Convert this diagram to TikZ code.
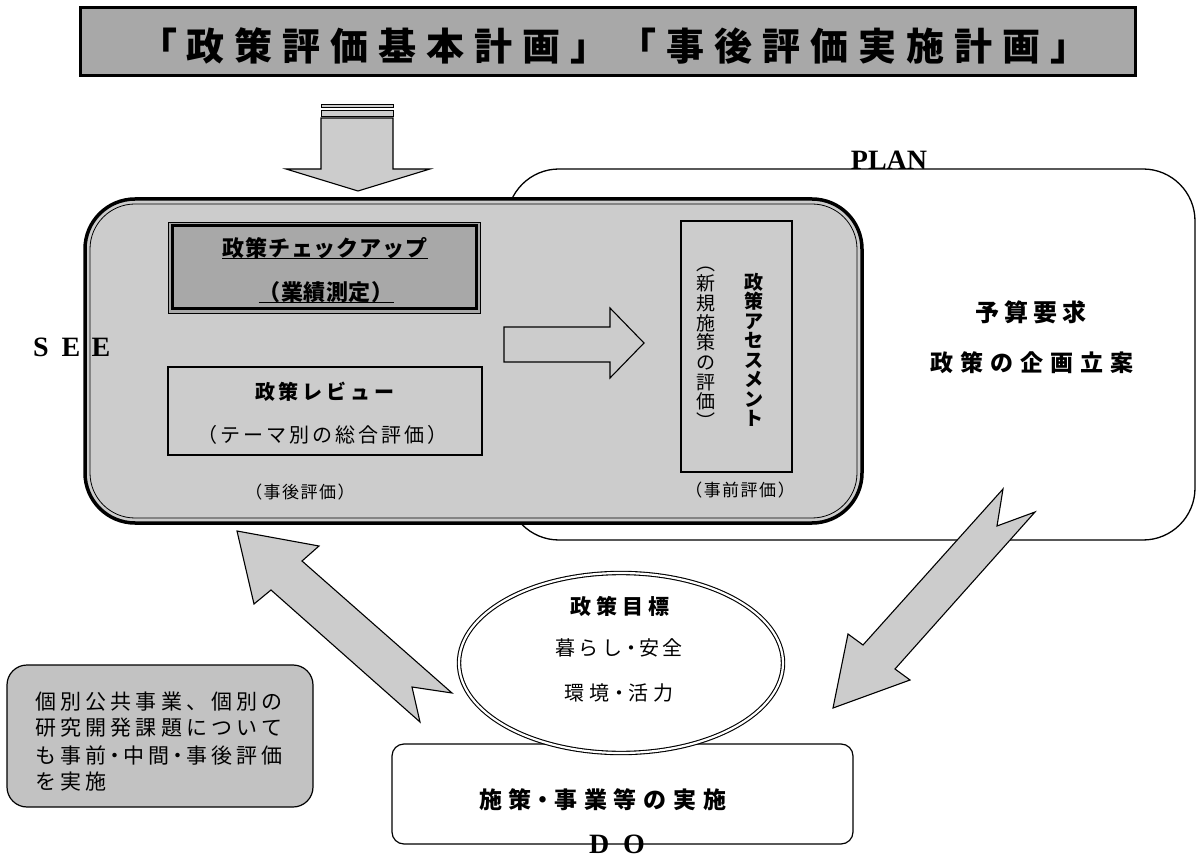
\documentclass[tikz,border=0pt]{standalone}
\usepackage{fontspec}
\usetikzlibrary{shapes.geometric}
\setmainfont{Noto Sans CJK JP}
\newfontfamily\tnr{Liberation Serif}
\definecolor{seegray}{gray}{0.80}
\definecolor{titlegray}{gray}{0.66}
\definecolor{chkgray}{gray}{0.66}
\definecolor{arrowgray}{gray}{0.80}
\definecolor{notegray}{gray}{0.76}
\newlength\spw
\def\spacedi#1{\ifx#1\relax\else\makebox[\spw]{#1}\expandafter\spacedi\fi}
\newcommand\spc[2]{\setlength\spw{#1}\spacedi#2\relax}
\tikzset{
  fs/.style={font=\fontsize{#1}{#1}\selectfont},
  fsb/.style={font=\bfseries\fontsize{#1}{#1}\selectfont},
  lbl/.style={inner sep=0pt, outer sep=0pt},
  blockarrow/.style={draw=black, line width=1.1pt, fill=arrowgray, line join=miter},
  box/.style={draw=black, inner sep=0pt, outer sep=0pt},
  ul/.style={line width=1pt},
  latin/.style={font=\tnr\bfseries\fontsize{#1}{#1}\selectfont, inner sep=0pt},
}
\begin{document}
\begin{tikzpicture}[x=1pt,y=-1pt]
\useasboundingbox (0,0) rectangle (1197,858);
% PLAN area
\node[box, line width=1.3pt, fill=white, rounded corners=52pt, minimum width=688pt, minimum height=371pt] (plan) at (851,354.5) {};
\node[latin=28] (plantxt) at (889,160) {PLAN};
% title
\node[box, line width=3pt, fill=titlegray, minimum width=1055pt, minimum height=68pt] (title) at (607.5,42) {};
\node[lbl, fsb=38] (titletxt) at (614,46) {\spc{48pt}{「政策評価基本計画」「事後評価実施計画」}};
% top arrow
\draw[blockarrow, line width=0.9pt] (321,104) rectangle (393,107);
\draw[blockarrow, line width=0.9pt] (321,110) rectangle (393,116);
\draw[blockarrow] (321,118) -- (393,118) -- (393,169) -- (430,169) -- (358,191) -- (286,169) -- (321,169) -- cycle;
% SEE box
\node[box, line width=3.5pt, fill=seegray, rounded corners=50pt, minimum width=777pt, minimum height=324pt] (see) at (473.5,361) {};
\draw[line width=0.8pt, rounded corners=45pt] ([shift={(5,5)}]see.north west) rectangle ([shift={(-5,-5)}]see.south east);
% check-up box
\node[box, line width=0.8pt, fill=chkgray, minimum width=312pt, minimum height=91pt] (chk) at (324,267.5) {};
\draw[line width=3pt] ([shift={(4,4)}]chk.north west) rectangle ([shift={(-4,-4)}]chk.south east);
\node[lbl, fsb=22] (chk1) at (325,248) {\spc{22.8pt}{政策チェックアップ}};
\draw[ul] (chk1.south west) -- (chk1.south east);
\node[lbl, fsb=22] (chk2) at (326,292) {\spc{22.5pt}{（業績測定）}};
\draw[ul] (chk2.south west) -- (chk2.south east);
% review box
\node[box, line width=1.5pt, fill=seegray, minimum width=314pt, minimum height=88pt] (rev) at (325,411) {};
\node[lbl, fsb=20] (rev1) at (325,392) {\spc{24pt}{政策レビュー}};
\node[lbl, fs=20] (rev2) at (322,435) {\spc{23pt}{（テーマ別の総合評価）}};
\node[lbl, fs=17] (post) at (300,492) {\spc{18.5pt}{（事後評価）}};
% assessment box
\node[box, line width=1.2pt, fill=seegray, minimum width=111pt, minimum height=251pt] (asm) at (736.5,346.5) {};
\node[lbl, align=center, font=\bfseries\fontsize{19}{19.5}\selectfont] (asm1) at (754,350) {政\\策\\ア\\セ\\ス\\メ\\ン\\ト};
\node[lbl, align=center, font=\fontsize{19}{19.7}\selectfont] (asm2) at (706,348) {︵\\新\\規\\施\\策\\の\\評\\価\\︶};
\node[lbl, fs=17] (pre) at (740,490) {\spc{18.5pt}{（事前評価）}};
% inner arrow
\draw[blockarrow] (504,327) -- (610,327) -- (610,308) -- (644,343) -- (610,378) -- (610,362) -- (504,362) -- cycle;
% SEE label
\node[latin=28] (seetxt) at (71,347) {\spc{30pt}{SEE}};
% PLAN texts
\node[lbl, fsb=24] (plan1) at (1031,312) {\spc{29pt}{予算要求}};
\node[lbl, fsb=23] (plan2) at (1032,363) {\spc{30pt}{政策の企画立案}};
% DO box
\node[box, line width=1.2pt, fill=white, rounded corners=12pt, minimum width=461pt, minimum height=100pt] (dobox) at (622.5,794) {};
\node[lbl, fsb=23] (do1) at (603,800) {\spc{30pt}{施策}\makebox[15pt]{・}\spc{30pt}{事業等の実施}};
\node[latin=28] (dotxt) at (617,844) {D\hspace{14pt}O};
% goal ellipse
\node[ellipse, draw=black, line width=1.1pt, double=white, double distance=2.2pt, fill=white, minimum width=324pt, minimum height=180pt, inner sep=0pt] (goal) at (621,663) {};
\node[lbl, fsb=21] (goal1) at (620,606) {\spc{26pt}{政策目標}};
\node[lbl, fs=20] (goal2) at (619,648) {\spc{24pt}{暮らし}\makebox[12pt]{・}\spc{24pt}{安全}};
\node[lbl, fs=20] (goal3) at (619,693) {\spc{25.5pt}{環境}\makebox[13pt]{・}\spc{25.5pt}{活力}};
% note box
\node[box, line width=1.2pt, fill=notegray, rounded corners=20pt, minimum width=306pt, minimum height=142pt] (note) at (160,736) {};
\node[lbl, fs=21, anchor=west] (n1) at (33,702) {\spc{25.2pt}{個別公共事業、個別の}};
\node[lbl, fs=21, anchor=west] (n2) at (33,728) {\spc{25.2pt}{研究開発課題について}};
\node[lbl, fs=21, anchor=west] (n3) at (33,755) {\spc{25.2pt}{も事前}\makebox[12.6pt]{・}\spc{25.2pt}{中間}\makebox[12.6pt]{・}\spc{25.2pt}{事後評価}};
\node[lbl, fs=21, anchor=west] (n4) at (33,782) {\spc{25.2pt}{を実施}};
% cycle arrows
\draw[blockarrow] (237,531) -- (319,546) -- (302,561) -- (452,693) -- (412,687) -- (420,722) -- (271,590) -- (254,604) -- cycle;
\draw[blockarrow] (1003,489) -- (997,526) -- (1035,512) -- (895,669) -- (910,680) -- (833,708) -- (848,634) -- (863,645) -- cycle;
\end{tikzpicture}
\end{document}
